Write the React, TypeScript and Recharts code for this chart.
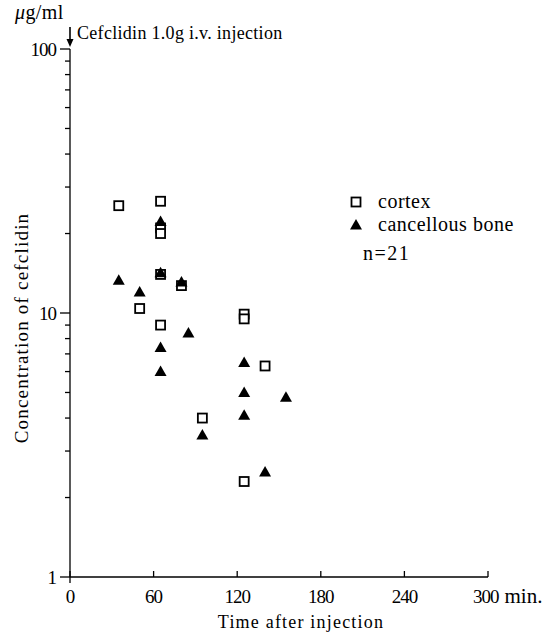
import React from 'react';
import { ScatterChart, Scatter, XAxis, YAxis } from 'recharts';

// minutes after injection / concentration (µg/ml)
const cortexTime = [35, 50, 65, 65, 65, 65, 65, 80, 95, 125, 125, 125, 140];
const cortexConc = [25.5, 10.4, 26.5, 21, 20, 14, 9, 12.7, 4.0, 9.9, 9.5, 2.3, 6.3];

const boneTime = [35, 50, 65, 65, 65, 65, 80, 85, 95, 125, 125, 125, 140, 155];
const boneConc = [13.3, 12.0, 22.2, 14.2, 7.4, 6.0, 13.1, 8.4, 3.45, 6.5, 5.0, 4.1, 2.5, 4.8];

const xTicks = [0, 60, 120, 180, 240, 300];
const yTicks = [1, 2, 3, 4, 5, 6, 7, 8, 9, 10, 20, 30, 40, 50, 60, 70, 80, 90, 100];
const yMajor = [1, 10, 100];

const FONT = "'Liberation Serif', 'DejaVu Serif', serif";

const cortexData = cortexTime.map((t, i) => ({ t, c: cortexConc[i] }));
const boneData = boneTime.map((t, i) => ({ t, c: boneConc[i] }));

const Square = (props: any) => {
  const { cx, cy } = props;
  return <rect x={cx - 4.5} y={cy - 4.5} width={9} height={9} fill="#fff" stroke="#000" strokeWidth={1.8} />;
};

const Triangle = (props: any) => {
  const { cx, cy } = props;
  return <polygon points={`${cx},${cy - 6} ${cx + 6},${cy + 4.5} ${cx - 6},${cy + 4.5}`} fill="#000" />;
};

const YTick = (props: any) => {
  const { x, y, payload } = props;
  const major = yMajor.includes(payload.value);
  return (
    <g>
      <line x1={x - (major ? 10 : 5)} y1={y} x2={x} y2={y} stroke="#000" strokeWidth={1.3} />
      {major && (
        <text x={x - 14} y={y + 6.5} textAnchor="end" fontSize={19} letterSpacing={-1}
          fontFamily={FONT} fill="#000">
          {payload.value}
        </text>
      )}
    </g>
  );
};

const XTick = (props: any) => {
  const { x, y, payload } = props;
  const v = payload.value;
  return (
    <g>
      <line x1={x} y1={v === 0 ? y + 6 : y} x2={x} y2={y - 6} stroke="#000" strokeWidth={1.3} />
      {v === 300 ? (
        <text x={x - 15} y={y + 26} fontSize={19} fontFamily={FONT} fill="#000">
          <tspan letterSpacing={-1}>300</tspan>
          <tspan dx={6} fontSize={21}>min.</tspan>
        </text>
      ) : (
        <text x={x} y={y + 26} textAnchor="middle" fontSize={19} letterSpacing={-1}
          fontFamily={FONT} fill="#000">
          {v}
        </text>
      )}
    </g>
  );
};

export default function App() {
  return (
    <div style={{ position: 'absolute', left: 0, top: 0, width: 560, height: 641, background: '#fff' }}>
      <ScatterChart width={560} height={641} margin={{ top: 49, right: 72, bottom: 14, left: 10 }}>
        <XAxis
          type="number"
          dataKey="t"
          domain={[0, 300]}
          ticks={xTicks}
          interval={0}
          height={50}
          tickSize={0}
          tickMargin={0}
          tick={<XTick />}
          axisLine={{ stroke: '#000', strokeWidth: 1.3 }}
        />
        <YAxis
          type="number"
          dataKey="c"
          scale="log"
          domain={[1, 100]}
          allowDataOverflow
          ticks={yTicks}
          interval={0}
          width={60}
          tickSize={0}
          tickMargin={0}
          tick={<YTick />}
          axisLine={{ stroke: '#000', strokeWidth: 1.3 }}
        />
        <Scatter name="cortex" data={cortexData} shape={<Square />} isAnimationActive={false} />
        <Scatter name="cancellous bone" data={boneData} shape={<Triangle />} isAnimationActive={false} />
      </ScatterChart>

      {/* annotations, legend and axis titles */}
      <svg width={560} height={641} style={{ position: 'absolute', left: 0, top: 0, pointerEvents: 'none' }}
        fontFamily={FONT} fill="#000">
        <text x={15} y={19} fontSize={20} letterSpacing={0.4}>
          <tspan fontStyle="italic">μ</tspan>g/ml
        </text>
        <line x1={70} y1={27} x2={70} y2={40} stroke="#000" strokeWidth={1.6} />
        <polygon points="66.5,39 73.5,39 70,47" fill="#000" />
        <text x={77} y={39} fontSize={18} letterSpacing={0.3}>Cefclidin 1.0g i.v. injection</text>

        <rect x={351.5} y={197.5} width={9} height={9} fill="#fff" stroke="#000" strokeWidth={1.8} />
        <text x={378} y={208} fontSize={20} letterSpacing={0.5}>cortex</text>
        <polygon points="356,219 362,229.5 350,229.5" fill="#000" />
        <text x={378} y={231} fontSize={20} letterSpacing={0.5}>cancellous bone</text>
        <text x={363} y={260} fontSize={20} letterSpacing={1.5}>n=21</text>

        <text x={301} y={628} fontSize={18} letterSpacing={1.2} textAnchor="middle">Time after injection</text>
        <text transform="translate(28,328) rotate(-90)" fontSize={19} letterSpacing={1.2} textAnchor="middle">
          Concentration of cefclidin
        </text>
      </svg>
    </div>
  );
}
